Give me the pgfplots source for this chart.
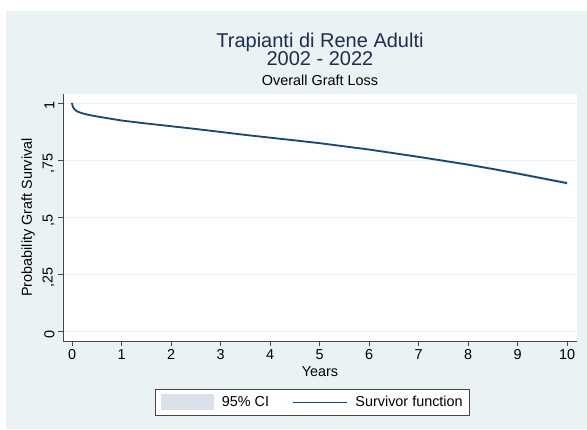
\documentclass[border=0pt]{standalone}
\usepackage{pgfplots}
\pgfplotsset{compat=1.18}
\usepackage{fontspec}
\setmainfont{Liberation Sans}
\definecolor{bgc}{RGB}{234,242,243}
\definecolor{navyc}{RGB}{26,71,111}
\definecolor{cic}{RGB}{219,225,232}
\definecolor{titc}{RGB}{30,45,80}
\definecolor{axc}{RGB}{70,70,70}
\pgfplotstableread{
x s
0 1.000
0.005 0.993
0.02 0.982
0.05 0.972
0.1 0.963
0.2 0.955
0.35 0.947
0.5 0.941
0.75 0.932
1 0.923
1.5 0.910
2 0.898
2.5 0.886
3 0.873
3.5 0.860
4 0.848
4.5 0.836
5 0.824
5.5 0.810
6 0.796
6.5 0.780
7 0.764
7.5 0.747
8 0.730
8.5 0.711
9 0.691
9.5 0.670
10 0.649
}\surv
% 95% CI band: upper bound forward, lower bound backward
\pgfplotstableread{
x y
0 1.000
0.005 0.995
0.02 0.984
0.05 0.974
0.1 0.965
0.2 0.957
0.35 0.949
0.5 0.943
0.75 0.935
1 0.926
1.5 0.913
2 0.901
2.5 0.889
3 0.876
3.5 0.863
4 0.851
4.5 0.840
5 0.828
5.5 0.814
6 0.800
6.5 0.784
7 0.768
7.5 0.752
8 0.735
8.5 0.716
9 0.697
9.5 0.676
10 0.656
10 0.642
9.5 0.664
9 0.685
8.5 0.706
8 0.725
7.5 0.742
7 0.760
6.5 0.776
6 0.792
5.5 0.806
5 0.820
4.5 0.832
4 0.845
3.5 0.857
3 0.870
2.5 0.883
2 0.895
1.5 0.907
1 0.920
0.75 0.929
0.5 0.939
0.35 0.945
0.2 0.953
0.1 0.961
0.05 0.970
0.02 0.980
0.005 0.991
0 1.000
}\band
\begin{document}
\begin{tikzpicture}
\path[use as bounding box] (0pt,0pt) rectangle (587pt,429pt);
\fill[bgc] (6pt,0pt) rectangle (587pt,418pt);
\node[font=\fontsize{20}{24}\selectfont, text=titc] at (320pt,387pt) {Trapianti di Rene Adulti};
\node[font=\fontsize{20}{24}\selectfont, text=titc] at (320pt,370pt) {2002 - 2022};
\node[font=\fontsize{14.4}{17}\selectfont] at (320pt,349pt) {Overall Graft Loss};
\begin{axis}[
  at={(63pt,88pt)}, anchor=south west,
  scale only axis, width=514pt, height=247pt,
  xmin=-0.182, xmax=10.2, ymin=-0.0416, ymax=1.039,
  axis lines*=left,
  axis line style={axc, line width=0.8pt},
  axis background/.style={fill=white},
  xtick={0,1,...,10},
  ytick={0,0.25,0.5,0.75,1},
  yticklabels={0,{,25},{,5},{,75},1},
  /pgf/number format/assume math mode=true,
  tick align=outside,
  major tick length=5pt,
  tick style={axc, line width=0.8pt},
  ymajorgrids,
  grid style={bgc, line width=0.8pt},
  ticklabel style={font=\fontsize{14.4}{17}\selectfont},
  yticklabel style={rotate=90, anchor=south, xshift=-3pt},
  label style={font=\fontsize{14.4}{17}\selectfont},
  xlabel={Years},
  xlabel style={at={(axis description cs:0.5,-0.1255)}, anchor=center},
  ylabel={Probability Graft Survival},
  ylabel style={at={(axis description cs:-0.068,0.5)}, anchor=center},
  legend columns=2,
  legend style={at={(axis description cs:0.486,-0.194)}, anchor=north,
    draw=axc, line width=0.8pt, fill=white, font=\fontsize{14.4}{17}\selectfont,
    inner xsep=5pt, inner ysep=5pt,
    /tikz/every even column/.append style={column sep=21pt}},
]
\addplot[fill=cic, draw=none, legend image code/.code={\fill[cic] (0pt,-8pt) rectangle (53pt,8pt); \path (59pt,0pt);}] table[x=x,y=y] {\band};
\addlegendentry{95\% CI}
\addplot[navyc, line width=1.8pt, legend image code/.code={\draw[navyc, line width=1pt] (0pt,0pt) -- (54pt,0pt); \path (60pt,0pt);}] table[x=x,y=s] {\surv};
\addlegendentry{Survivor function}
\end{axis}
\end{tikzpicture}
\end{document}
